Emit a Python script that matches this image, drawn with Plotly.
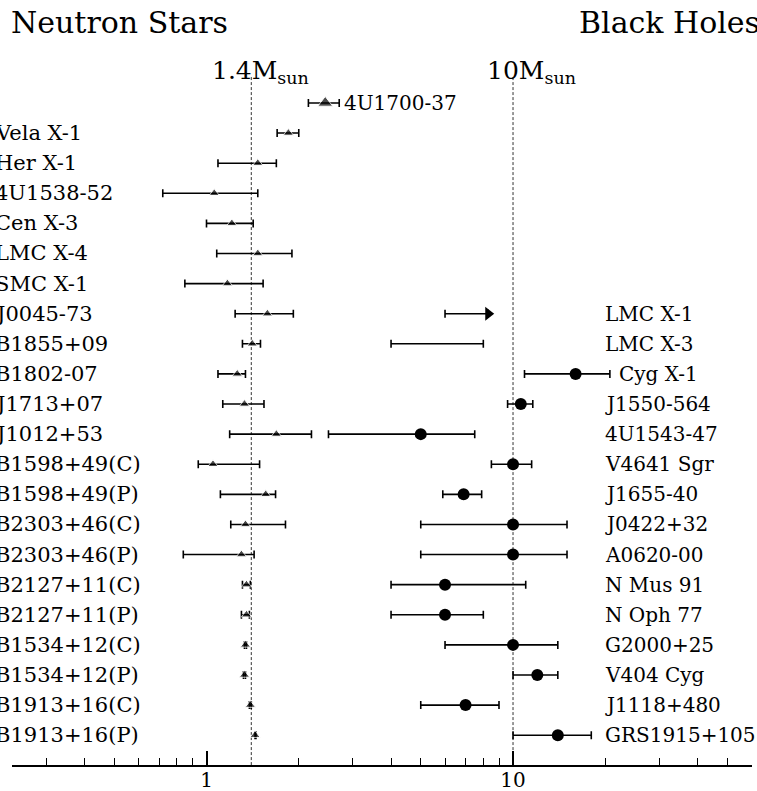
import math
import plotly.graph_objects as go

# ---------------- data ----------------
ns_names = ["4U1700-37", "Vela X-1", "Her X-1", "4U1538-52", "Cen X-3", "LMC X-4",
            "SMC X-1", "J0045-73", "B1855+09", "B1802-07", "J1713+07", "J1012+53",
            "B1598+49(C)", "B1598+49(P)", "B2303+46(C)", "B2303+46(P)",
            "B2127+11(C)", "B2127+11(P)", "B1534+12(C)", "B1534+12(P)",
            "B1913+16(C)", "B1913+16(P)"]
ns_mass = [2.44, 1.85, 1.47, 1.06, 1.21, 1.47, 1.17, 1.58, 1.41, 1.26, 1.33, 1.69,
           1.05, 1.56, 1.34, 1.30, 1.35, 1.35, 1.34, 1.33, 1.39, 1.44]
ns_lo = [2.15, 1.70, 1.09, 0.72, 1.00, 1.08, 0.85, 1.24, 1.31, 1.09, 1.13, 1.19,
         0.94, 1.11, 1.20, 0.84, 1.31, 1.30, 1.33, 1.32, 1.38, 1.44]
ns_hi = [2.71, 2.00, 1.69, 1.47, 1.42, 1.90, 1.53, 1.92, 1.50, 1.34, 1.54, 2.20,
         1.49, 1.68, 1.81, 1.43, 1.39, 1.38, 1.35, 1.34, 1.40, 1.45]

bh_names = ["LMC X-1", "LMC X-3", "Cyg X-1", "J1550-564", "4U1543-47", "V4641 Sgr",
            "J1655-40", "J0422+32", "A0620-00", "N Mus 91", "N Oph 77", "G2000+25",
            "V404 Cyg", "J1118+480", "GRS1915+105"]
bh_kind = ["limit", "range", "point", "point", "point", "point", "point", "point",
           "point", "point", "point", "point", "point", "point", "point"]
bh_mass = [None, None, 16.0, 10.6, 5.0, 10.0, 6.9, 10.0, 10.0, 6.0, 6.0, 10.0, 12.0, 7.0, 14.0]
bh_lo = [6.0, 4.0, 10.9, 9.6, 2.5, 8.5, 5.9, 5.0, 5.0, 4.0, 4.0, 6.0, 10.0, 5.0, 10.0]
bh_hi = [8.3, 8.0, 20.7, 11.6, 7.5, 11.5, 7.9, 15.0, 15.0, 11.0, 8.0, 14.0, 14.0, 9.0, 18.0]
bh_first_row = 7  # black holes share rows with J0045-73 ... B1913+16(P)

ref_masses = [1.4, 10.0]
ref_labels = ["1.4M<sub>sun</sub>", "10M<sub>sun</sub>"]

major_ticks = [1, 10]
major_text = ["1", "10"]
minor_ticks = [0.3, 0.4, 0.5, 0.6, 0.7, 0.8, 0.9, 2, 3, 4, 5, 6, 7, 8, 9, 20, 30, 40, 50, 60]

x_range = [0.232, 60.2]

# ---------------- figure ----------------
FONT = "DejaVu Serif"
W, H = 757, 791
ML, MR, MT, MB = 12, 5, 0, 26
n_rows = len(ns_names)
y_range = [21.99, -3.42]
PH = H - MT - MB
PW = W - ML - MR

fig = go.Figure()

# reference dashed lines
for m in ref_masses:
    fig.add_trace(go.Scatter(x=[m, m], y=[-0.86, y_range[0]], mode="lines",
                             line=dict(color="#333", width=1, dash="3px,2px"),
                             hoverinfo="skip", showlegend=False))

# neutron stars
rows = list(range(n_rows))
sizes = [13] + [9] * (n_rows - 1)
fig.add_trace(go.Scatter(
    x=ns_mass, y=rows, mode="markers",
    marker=dict(symbol="triangle-up", size=sizes, color="black"),
    error_x=dict(type="data", symmetric=False,
                 array=[h - m for h, m in zip(ns_hi, ns_mass)],
                 arrayminus=[m - l for m, l in zip(ns_mass, ns_lo)],
                 color="black", thickness=1.6, width=4),
    showlegend=False))

# black holes
for i, (name, kind, m, lo, hi) in enumerate(zip(bh_names, bh_kind, bh_mass, bh_lo, bh_hi)):
    r = bh_first_row + i
    if kind == "point":
        fig.add_trace(go.Scatter(
            x=[m], y=[r], mode="markers",
            marker=dict(symbol="circle", size=12, color="black"),
            error_x=dict(type="data", symmetric=False, array=[hi - m], arrayminus=[m - lo],
                         color="black", thickness=1.6, width=4),
            showlegend=False))
    elif kind == "limit":
        fig.add_trace(go.Scatter(
            x=[hi], y=[r], mode="markers",
            marker=dict(symbol="triangle-right", size=12, color="black"),
            error_x=dict(type="data", symmetric=False, array=[0], arrayminus=[hi - lo],
                         color="black", thickness=1.6, width=4),
            showlegend=False))
    else:
        fig.add_trace(go.Scatter(
            x=[hi], y=[r], mode="markers",
            marker=dict(size=2, color="rgba(0,0,0,0)"),
            error_x=dict(type="data", symmetric=False, array=[0], arrayminus=[hi - lo],
                         color="black", thickness=1.6, width=4),
            showlegend=False))

ann = []
label_font = dict(family=FONT, size=21, color="black")
right_font = dict(family=FONT, size=20, color="black")
# neutron star labels (left side, first one right of its point)
for i, name in enumerate(ns_names):
    if i == 0:
        ann.append(dict(x=math.log10(ns_hi[i]), y=i, xref="x", yref="y", text=name,
                        xanchor="left", yanchor="middle", xshift=3, showarrow=False,
                        font=right_font))
    else:
        ann.append(dict(x=(-7 - ML) / PW, y=i, xref="paper", yref="y", text=name,
                        xanchor="left", yanchor="middle", showarrow=False, font=label_font))

# black hole labels (right side)
px_per_dec = PW / (math.log10(x_range[1]) - math.log10(x_range[0]))
base_lab = math.log10(19.6)
for i, (name, hi) in enumerate(zip(bh_names, bh_hi)):
    lx = max(base_lab, math.log10(hi) + 7 / px_per_dec)
    ann.append(dict(x=lx, y=bh_first_row + i, xref="x", yref="y", text=name,
                    xanchor="left", yanchor="middle", showarrow=False, font=right_font))

# reference mass labels
for m, t, xs in zip(ref_masses, ref_labels, [9, 18]):
    ann.append(dict(x=math.log10(m), y=1 - 72 / PH, xref="x", yref="paper",
                    text=t, xanchor="center", yanchor="middle", xshift=xs, showarrow=False,
                    font=dict(family=FONT, size=25, color="black")))

# titles
ann.append(dict(x=(9 - ML) / PW, y=1 - 22 / PH, xref="paper", yref="paper",
                text="Neutron Stars", xanchor="left", yanchor="middle", showarrow=False,
                font=dict(family=FONT, size=30, color="black")))
ann.append(dict(x=(577 - ML) / PW, y=1 - 22 / PH, xref="paper", yref="paper",
                text="Black Holes", xanchor="left", yanchor="middle", showarrow=False,
                font=dict(family=FONT, size=30, color="black")))

fig.update_layout(
    width=W, height=H,
    margin=dict(l=ML, r=MR, t=MT, b=MB, pad=0, autoexpand=False),
    paper_bgcolor="white", plot_bgcolor="white",
    annotations=ann,
    xaxis=dict(type="log", range=[math.log10(x_range[0]), math.log10(x_range[1])],
               automargin=False,
               showgrid=False, zeroline=False, showline=True, linecolor="black", linewidth=1.5,
               ticks="inside", ticklen=14, tickwidth=1.5, tickcolor="black",
               tickmode="array", tickvals=major_ticks, ticktext=major_text,
               ticklabelstandoff=-4,
               tickfont=dict(family=FONT, size=20, color="black"),
               minor=dict(tickmode="array", tickvals=minor_ticks, ticks="inside",
                          ticklen=7, tickwidth=1.2, tickcolor="black", showgrid=False)),
    yaxis=dict(range=y_range, visible=False, showgrid=False, zeroline=False, automargin=False),
)

fig.write_html("out.html", config={"displayModeBar": False},
               post_script="document.body.style.margin='0';document.body.style.overflow='hidden';")
